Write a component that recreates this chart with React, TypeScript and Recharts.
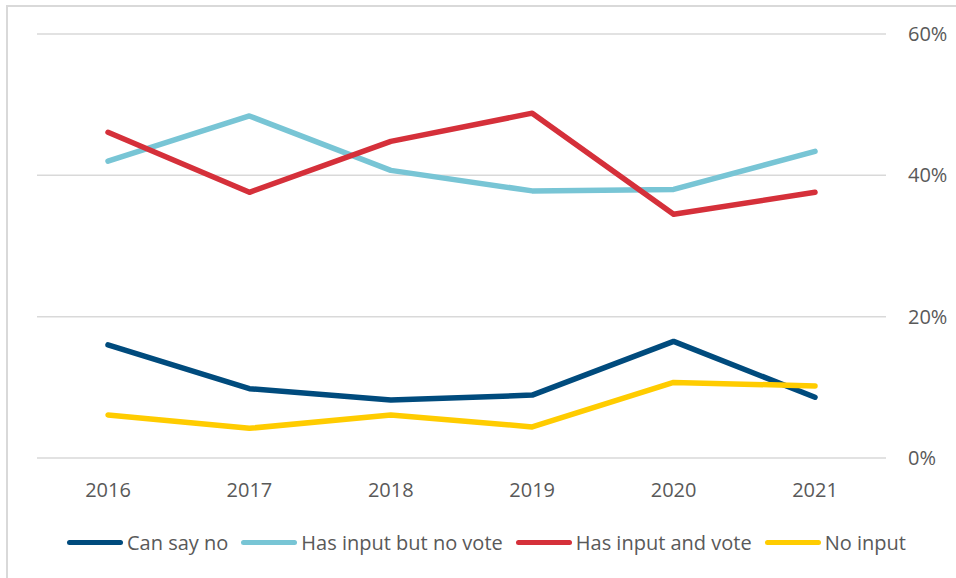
import { LineChart, Line, XAxis, YAxis, CartesianGrid, Legend } from 'recharts';

const years = ['2016', '2017', '2018', '2019', '2020', '2021'];
const canSayNo = [16.0, 9.8, 8.2, 8.9, 16.5, 8.6];
const inputNoVote = [42.0, 48.4, 40.7, 37.8, 38.0, 43.4];
const inputAndVote = [46.1, 37.6, 44.8, 48.8, 34.5, 37.6];
const noInput = [6.1, 4.2, 6.1, 4.4, 10.7, 10.2];
const yTicks = [0, 20, 40, 60];

const data = years.map((year, i) => ({
  year,
  canSayNo: canSayNo[i],
  inputNoVote: inputNoVote[i],
  inputAndVote: inputAndVote[i],
  noInput: noInput[i],
}));

const series = [
  { key: 'canSayNo', name: 'Can say no', color: '#004b7d' },
  { key: 'inputNoVote', name: 'Has input but no vote', color: '#78c5d5' },
  { key: 'inputAndVote', name: 'Has input and vote', color: '#d5303a' },
  { key: 'noInput', name: 'No input', color: '#ffcc00' },
];

const font = '"Open Sans", sans-serif';
const textColor = '#595959';

function XTick(props: any) {
  const { x, y, payload } = props;
  return (
    <text x={x} y={y + 39} textAnchor="middle" fill={textColor} fontSize={20} fontFamily={font}>
      {payload.value}
    </text>
  );
}

function LegendContent(props: any) {
  // keep legend in series order (recharts sorts by name by default)
  const order = series.map((s) => s.name);
  const items = [...(props.payload || [])].sort(
    (a: any, b: any) => order.indexOf(a.value) - order.indexOf(b.value)
  );
  return (
    <div style={{ display: 'flex', alignItems: 'center', paddingLeft: 67, fontFamily: font, fontSize: 20, color: textColor }}>
      {items.map((it: any) => (
        <div key={it.value} style={{ display: 'flex', alignItems: 'center', marginRight: 13 }}>
          <span style={{ display: 'inline-block', width: 56, height: 5, borderRadius: 3, background: it.color, marginRight: 4 }} />
          <span>{it.value}</span>
        </div>
      ))}
    </div>
  );
}

export default function App() {
  return (
    <div style={{ position: 'absolute', top: 0, left: 0, width: 956, height: 578, overflow: 'hidden', background: '#fff' }}>
      <div style={{ position: 'absolute', left: 6, top: 5, width: 960, height: 590, border: '2px solid #d9d9d9', boxSizing: 'border-box' }} />
      <LineChart width={956} height={578} data={data} margin={{ top: 34, right: 0, left: 37, bottom: 60 }}>
        <CartesianGrid vertical={false} stroke="#d9d9d9" strokeWidth={1.5} />
        <XAxis
          dataKey="year"
          axisLine={false}
          tickLine={false}
          tickSize={0}
          tickMargin={0}
          padding={{ left: 71, right: 71 }}
          tick={<XTick />}
          height={60}
        />
        <YAxis
          orientation="right"
          domain={[0, 60]}
          ticks={yTicks}
          tickFormatter={(v) => `${v}%`}
          axisLine={false}
          tickLine={false}
          tickSize={0}
          tickMargin={22}
          width={70}
          tick={{ fill: textColor, fontSize: 20, fontFamily: font }}
        />
        <Legend
          layout="horizontal"
          verticalAlign="middle"
          align="center"
          content={<LegendContent />}
          wrapperStyle={{ top: 529, left: 0, width: 956 }}
        />
        {series.map((s) => (
          <Line
            key={s.key}
            type="linear"
            dataKey={s.key}
            name={s.name}
            stroke={s.color}
            strokeWidth={5.5}
            strokeLinecap="round"
            strokeLinejoin="round"
            dot={false}
            activeDot={false}
            isAnimationActive={false}
          />
        ))}
      </LineChart>
    </div>
  );
}
